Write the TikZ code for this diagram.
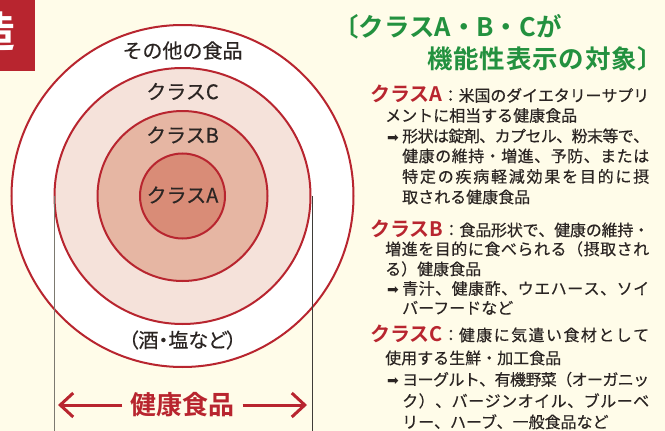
\documentclass[tikz,border=0pt]{standalone}
\usepackage{fontspec}
\newfontfamily\jp[BoldFont=Noto Sans CJK JP Bold]{Noto Sans CJK JP}
\newfontfamily\jpm[FakeBold=0.4]{Noto Sans CJK JP}
\newfontfamily\jpp[RawFeature=+palt,FakeBold=0.4]{Noto Sans CJK JP}
\newfontfamily\dv{DejaVu Sans}
\usetikzlibrary{arrows.meta}
\definecolor{bg}{HTML}{FFFCE9}
\definecolor{rd}{HTML}{B8252F}
\definecolor{gr}{HTML}{23913F}
\definecolor{ink}{HTML}{2B2523}
\definecolor{fc}{HTML}{F5E2DA}
\definecolor{fb}{HTML}{E6B6A3}
\definecolor{fa}{HTML}{D98C77}
\definecolor{vlineA}{HTML}{7C7970}
\definecolor{vlineB}{HTML}{3F3C38}
\newcommand\redlabel[1]{{\jp\color{rd}\bfseries\fontsize{20}{22}\selectfont #1}}
\newcommand\arrowmark{\makebox[15pt][l]{\dv\fontsize{14}{14}\selectfont ➡}}
% justified line: glue between every character
\def\sprfirst#1{#1\sprrest}
\def\sprrest#1{\ifx\relax#1\else\hskip 0pt plus 1fil minus 1fil #1\expandafter\sprrest\fi}
\newcommand\jline[3]{\makebox[#1][s]{#2\sprfirst#3\relax}}
\begin{document}
\begin{tikzpicture}[x=1pt,y=-1pt,
  ring/.style={circle, draw=rd, line width=2pt, inner sep=0pt},
  lbl/.style={font=\jpm\fontsize{20}{24}\selectfont, text=ink, inner sep=0pt},
  body/.style={anchor=base west, font=\jpm\fontsize{16}{18}\selectfont, text=ink, inner sep=0pt},
  head/.style={font=\jp\bfseries\fontsize{25.5}{28}\selectfont, text=gr, inner sep=0pt},
  arr/.style={draw=rd, line width=3pt, -{Straight Barb[length=13pt,width=24pt]}},
  guide/.style={line width=1pt}]
\fill[bg] (0,0) rectangle (665,431);
\useasboundingbox (0,0) rectangle (665,431);
% corner tab
\fill[rd] (0,0) rectangle (35,71);
\node[text=white, font=\jp\bfseries\fontsize{42}{42}\selectfont, inner sep=0pt] (zo) at (-6,31) {造};
% concentric circles
\node[ring, fill=white, minimum size=342pt] (outer) at (182.5,196) {};
\node[ring, fill=fc, minimum size=256pt] (cC) at (182.5,196) {};
\node[ring, fill=fb, minimum size=170pt] (cB) at (182.5,196) {};
\node[ring, fill=fa, minimum size=85pt] (cA) at (182.5,196) {};
% labels in circles
\node[lbl] (lo) at (182.5,50.5) {その他の食品};
\node[lbl] (lC) at (182.5,91.5) {クラスC};
\node[lbl] (lB) at (182.5,135) {クラスB};
\node[lbl] (lA) at (182.5,195) {クラスA};
\node[lbl, font=\jpp\fontsize{20}{24}\selectfont] (ls) at (182.5,340) {（酒・塩など）};
% guide lines
\coordinate (g1t) at (54,196);
\coordinate (g1b) at (54,431);
\coordinate (g2t) at (312,196);
\coordinate (g2b) at (312,431);
\draw[guide, draw=vlineA] (g1t) -- (g1b);
\draw[guide, draw=vlineB] (g2t) -- (g2b);
% health food arrow
\node[text=rd, font=\jp\bfseries\fontsize{26}{30}\selectfont, inner sep=0pt] (hk) at (182.5,405) {健康食品};
\coordinate (la) at (58,405);
\coordinate (ra) at (307,405);
\draw[arr] ([xshift=-8pt]hk.west) -- (la);
\draw[arr] ([xshift=8pt]hk.east) -- (ra);
% heading
\node[head, anchor=base west] (h1) at (333,36) {〔クラスA・B・Cが};
\node[head, anchor=base west] (h2) at (427,68) {\jline{236pt}{}{機能性表示の対象〕}};
% class A
\node[body] (a1) at (370,101.5) {\jline{279pt}{\redlabel{クラスA}：}{米国のダイエタリーサプリ}};
\node[body] (a2) at (385,121.5) {メントに相当する健康食品};
\node[body] (a3) at (387,142) {\jline{262pt}{\arrowmark}{形状は錠剤、カプセル、粉末等で、}};
\node[body] (a4) at (402,162) {\jline{247pt}{}{健康の維持・増進、予防、または}};
\node[body] (a5) at (402,182.5) {\jline{247pt}{}{特定の疾病軽減効果を目的に摂}};
\node[body] (a6) at (402,203) {取される健康食品};
% class B
\node[body] (b1) at (370,236) {\jline{279pt}{\redlabel{クラスB}：}{食品形状で、健康の維持・}};
\node[body] (b2) at (385,255) {\jline{264pt}{}{増進を目的に食べられる（摂取され}};
\node[body] (b3) at (385,275) {る）健康食品};
\node[body] (b4) at (387,294.5) {\jline{262pt}{\arrowmark}{青汁、健康酢、ウエハース、ソイ}};
\node[body] (b5) at (402,314) {バーフードなど};
% class C
\node[body] (c1) at (370,341) {\jline{279pt}{\redlabel{クラスC}：}{健康に気遣い食材として}};
\node[body] (c2) at (385,364) {使用する生鮮・加工食品};
\node[body] (c3) at (387,385.5) {\jline{262pt}{\arrowmark}{ヨーグルト、有機野菜（オーガニッ}};
\node[body] (c4) at (402,407) {\jline{247pt}{}{ク）、バージンオイル、ブルーベ}};
\node[body] (c5) at (402,428) {リー、ハーブ、一般食品など};
\end{tikzpicture}
\end{document}
